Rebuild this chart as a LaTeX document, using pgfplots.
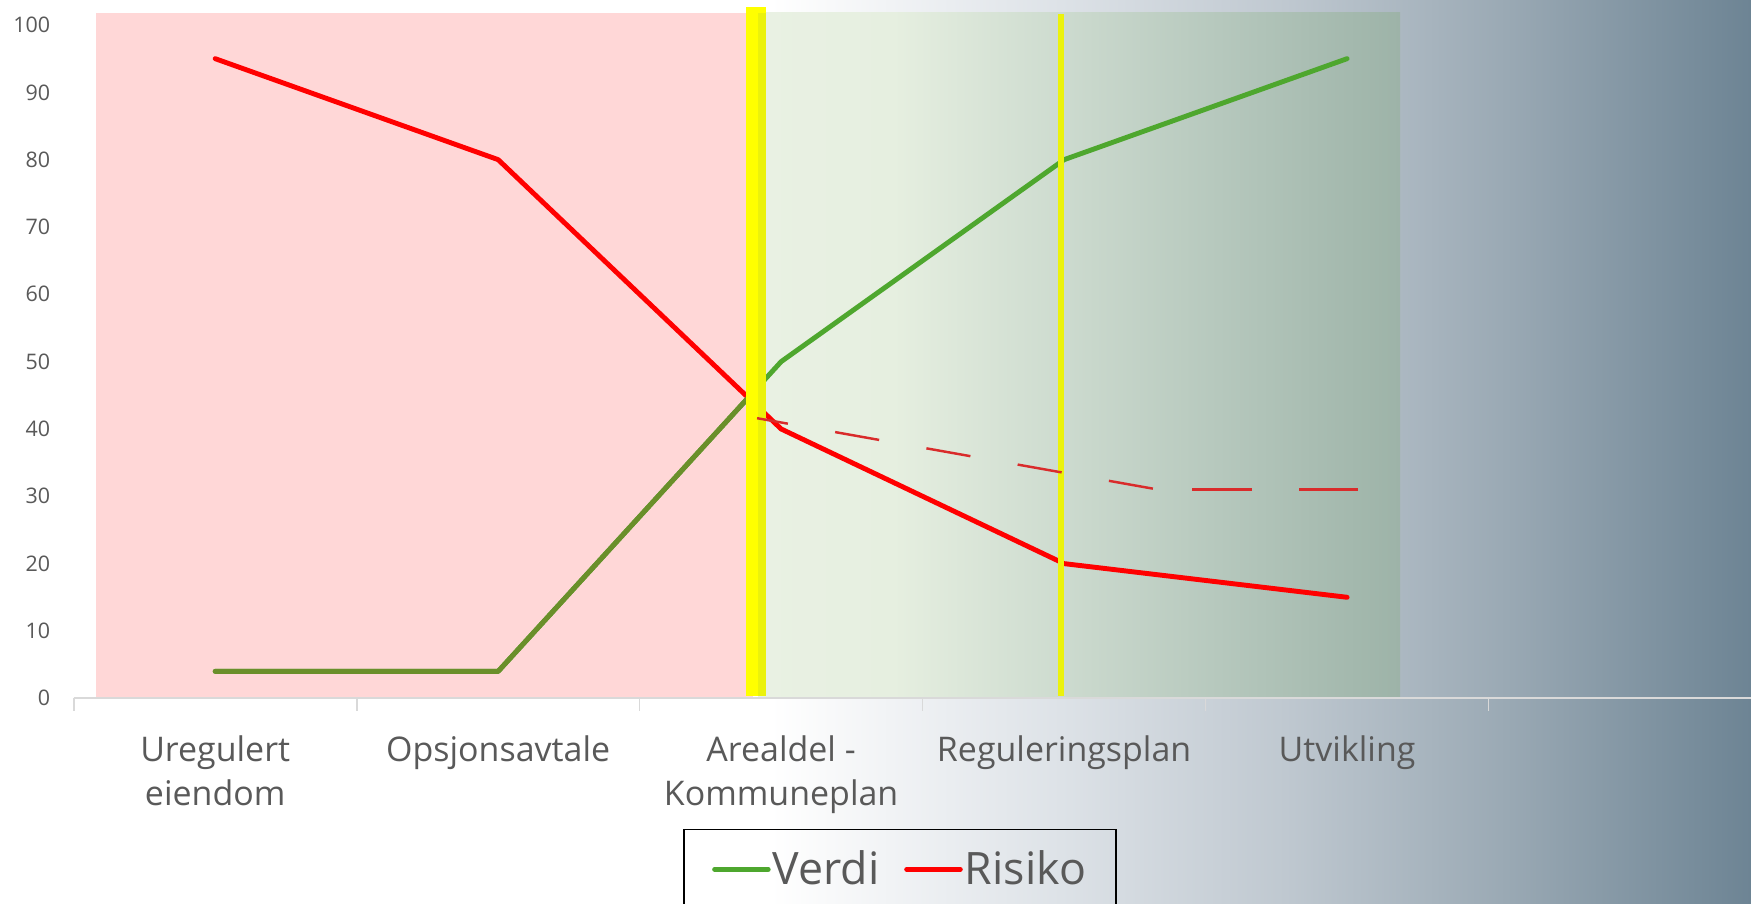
\documentclass[border=0pt]{standalone}
\usepackage{pgfplots}
\pgfplotsset{compat=1.18}
\usepackage{fontspec}
\setmainfont{Open Sans}
\definecolor{txtgrey}{HTML}{595959}
\definecolor{axgrey}{HTML}{D9D9D9}
\definecolor{pinkbg}{HTML}{FFD7D7}
\definecolor{verdi}{HTML}{4EA72E}
\definecolor{olivegr}{HTML}{6A8F2A}
\definecolor{risiko}{HTML}{FF0000}
\definecolor{dashred}{HTML}{D92B2B}
\definecolor{yellowA}{HTML}{FFFF00}
\definecolor{yellowB}{HTML}{EBF20C}
\definecolor{bgA}{HTML}{DDE2E7}
\definecolor{bgB}{HTML}{BFC8D0}
\definecolor{bgC}{HTML}{9AA9B4}
\definecolor{bgD}{HTML}{6D8494}
\definecolor{gA}{HTML}{E9F1E3}
\definecolor{gB}{HTML}{E6EFE0}
\definecolor{gC}{HTML}{CDDBCF}
\definecolor{gD}{HTML}{B6C8BD}
\definecolor{gE}{HTML}{9DB3A8}
\pgfdeclarehorizontalshading{bgshade}{100bp}{color(0bp)=(white); color(47bp)=(white); color(55.3bp)=(bgA); color(61.7bp)=(bgB); color(68bp)=(bgC); color(75bp)=(bgD); color(100bp)=(bgD)}
\pgfdeclarehorizontalshading{grshade}{100bp}{color(0bp)=(gA); color(25bp)=(gA); color(35.5bp)=(gB); color(48.6bp)=(gC); color(60.8bp)=(gD); color(75bp)=(gE); color(100bp)=(gE)}
\begin{document}
\begin{tikzpicture}
\path[use as bounding box, clip] (0,0) rectangle (784pt,404.5pt);
\shade[shading=bgshade] (0,0) rectangle (784pt,404.5pt);
\begin{axis}[
  at={(33pt,91.85pt)}, anchor=south west,
  scale only axis, width=760.2pt, height=301.45pt,
  xmin=-0.5, xmax=5.5, ymin=0, ymax=100,
  clip=false,
  axis line style={draw=none},
  tick pos=left,
  major tick length=0pt,
  tick style={draw=axgrey, line width=0.75pt},
  ytick={0,10,...,100},
  yticklabel style={font=\fontsize{9.6}{11}\selectfont, text=txtgrey, xshift=-7pt},
  xtick={0,1,2,3,4},
  xticklabels={{Uregulert\\eiendom},{Opsjonsavtale},{Arealdel -\\Kommuneplan},{Reguleringsplan},{Utvikling}},
  xticklabel style={align=center, font=\fontsize{15.2}{19.9}\selectfont, text=txtgrey, yshift=-13pt},
  extra x ticks={-0.5,0.5,1.5,2.5,3.5,4.5,5.5},
  extra x tick labels={},
  extra x tick style={major tick length=5.5pt, tick align=outside},
  /pgf/number format/assume math mode=true,
  legend style={at={(axis description cs:0.3591,-0.1936)}, anchor=north west,
    draw=black, line width=0.75pt, fill=none,
    font=\fontsize{20}{24}\selectfont, text=txtgrey,
    legend columns=2, inner xsep=12.5pt, inner ysep=8.5pt,
    nodes={inner sep=1pt},
    /tikz/every even column/.append style={column sep=10pt}},
  legend cell align=left,
  legend image code/.code={\draw[#1] (0pt,0pt) -- (24pt,0pt);},
]
% background regions
\fill[pinkbg] (axis cs:-0.421,0) rectangle (axis cs:1.9,101.8);
\shade[shading=grshade] (axis cs:1.919,0) rectangle (axis cs:4.187,101.8);
\draw[axgrey, line width=0.75pt] (axis cs:-0.5,0) -- (axis cs:5.5,0);
% data
\addplot[verdi, line width=2.2pt, line cap=round, line join=round, mark=none]
  coordinates {(0,4) (1,4) (2,50) (3,80) (4,95)};
\addlegendentry{Verdi}
\addplot[risiko, line width=2.2pt, line cap=round, line join=round, mark=none]
  coordinates {(0,95) (1,80) (2,40) (3,20) (4,15)};
\addlegendentry{Risiko}
\begin{scope}
\clip (axis cs:-0.6,-5) rectangle (axis cs:1.919,105);
\addplot[olivegr, line width=2.2pt, line cap=round, line join=round, mark=none, forget plot]
  coordinates {(0,4) (1,4) (2,50)};
\end{scope}
% yellow markers
\fill[yellowA] (axis cs:1.8745,0.4) rectangle (axis cs:1.9467,102.7);
\fill[yellowB] (axis cs:1.919,0.4) rectangle (axis cs:1.9467,101.8);
\fill[yellowB] (axis cs:2.9775,0.3) rectangle (axis cs:3.0008,101.6);
% dashed trend
\addplot[dashred, line width=1.1pt, mark=none, forget plot, dash pattern=on 20pt off 21.5pt, dash phase=6pt]
  coordinates {(1.915,41.6) (3.332,31.0)};
\addplot[dashred, line width=1.1pt, mark=none, forget plot, dash pattern=on 27pt off 21pt, dash phase=32.8pt]
  coordinates {(3.332,31.0) (4.037,31.0)};
\end{axis}
\end{tikzpicture}
\end{document}
